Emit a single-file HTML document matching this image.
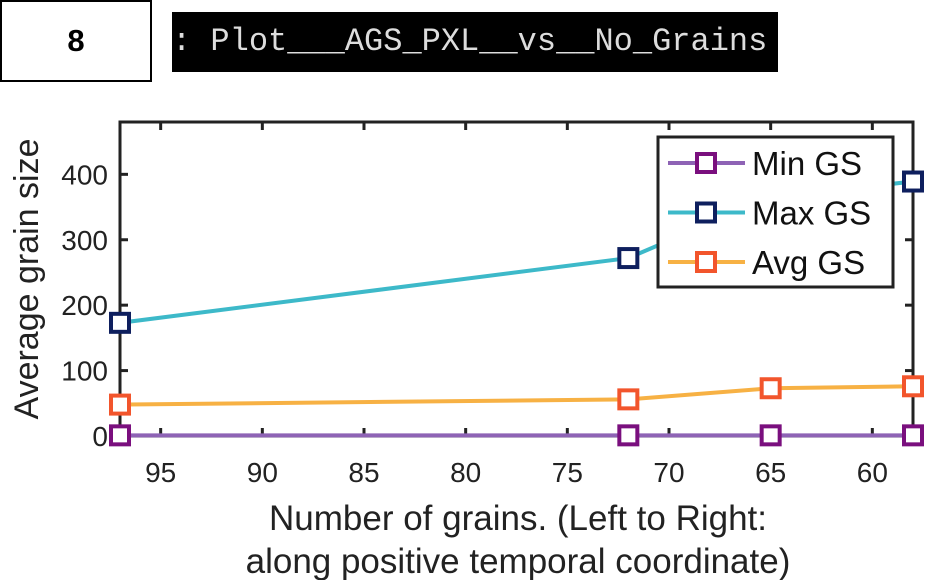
<!DOCTYPE html>
<html><head><meta charset="utf-8"><style>
body{margin:0;width:950px;height:580px;background:#fff;overflow:hidden;position:relative;font-family:"Liberation Sans",sans-serif}
</style></head><body>
<div style="position:absolute;left:0;top:0;width:148px;height:78px;border:2px solid #000;display:flex;align-items:center;justify-content:center;font-weight:bold;font-size:31px">8</div>
<div style="position:absolute;left:172px;top:12px;width:606px;height:60px;background:#000;color:#ddd;font-family:'Liberation Mono',monospace;font-size:32px;line-height:60px;white-space:pre;overflow:hidden">: Plot___AGS_PXL__vs__No_Grains</div>
<svg id="chart" width="950" height="580" style="position:absolute;left:0;top:0" font-family="Liberation Sans, sans-serif"></svg>
<script>
const xs=[97,72,65,58];
const minGS=[1,1,1,1];
const maxGS=[173,272,365,389];
const avgGS=[48,56,73,76];
const xTicks=[95,90,85,80,75,70,65,60];
const yTicks=[0,100,200,300,400];
const L=120,R=913,T=122,B=436;
const X=v=>L+(97-v)/(97-58)*(R-L);
const Y=v=>B-v/480*(B-T);
const svg=document.getElementById('chart');
const NS='http://www.w3.org/2000/svg';
function mk(t,a,p){const e=document.createElementNS(NS,t);for(const k in a)e.setAttribute(k,a[k]);(p||svg).appendChild(e);return e;}
let e;
e=mk('rect',{x:L,y:T,width:R-L,height:B-T,fill:'none',stroke:'#222','stroke-width':3});


xTicks.forEach(v=>{
 mk('line',{x1:X(v),x2:X(v),y1:B,y2:B-8,stroke:'#222','stroke-width':3});
 mk('line',{x1:X(v),x2:X(v),y1:T,y2:T+8,stroke:'#222','stroke-width':3});
 e=mk('text',{x:X(v),y:B+46,'text-anchor':'middle','font-size':28,fill:'#222'});e.textContent=v;
 
 
});
yTicks.forEach(v=>{
 mk('line',{x1:L,x2:L+8,y1:Y(v),y2:Y(v),stroke:'#222','stroke-width':3});
 mk('line',{x1:R,x2:R-8,y1:Y(v),y2:Y(v),stroke:'#222','stroke-width':3});
 e=mk('text',{x:L-12,y:Y(v)+10,'text-anchor':'end','font-size':28,fill:'#222'});e.textContent=v;
 
 
});
const series=[
 {n:'min-gs',d:minGS,line:'#8E63B5',mark:'#7A0F7E'},
 {n:'max-gs',d:maxGS,line:'#3DB9C9',mark:'#0E1F5E'},
 {n:'avg-gs',d:avgGS,line:'#F7B144',mark:'#F2552C'}];
series.slice().reverse().forEach(s=>{
 e=mk('polyline',{points:xs.map((x,i)=>X(x)+','+Y(s.d[i])).join(' '),fill:'none',stroke:s.line,'stroke-width':4});
 
 
 xs.forEach((x,i)=>{
  e=mk('rect',{x:X(x)-9,y:Y(s.d[i])-9,width:18,height:18,fill:'#fff',stroke:s.mark,'stroke-width':4});
  
  
 });
});
const lg=mk('g',{});


mk('rect',{x:658,y:137,width:235,height:150,fill:'#fff',stroke:'#222','stroke-width':3},lg);
const labels=['Min GS','Max GS','Avg GS'];
series.forEach((s,i)=>{
 const y=163+i*49.5;
 const g=mk('g',{},lg);
 
 
 mk('line',{x1:668,x2:745,y1:y,y2:y,stroke:s.line,'stroke-width':4},g);
 mk('rect',{x:697,y:y-9,width:18,height:18,fill:'#fff',stroke:s.mark,'stroke-width':4},g);
 const t=mk('text',{x:752,y:y+12,'font-size':33,fill:'#111'},g);t.textContent=labels[i];
});
e=mk('text',{x:38,y:279,'text-anchor':'middle','font-size':34,fill:'#222',transform:'rotate(-90 38 279)'});e.textContent='Average grain size';


e=mk('text',{x:518,y:530,'text-anchor':'middle','font-size':35,fill:'#222'});e.textContent='Number of grains. (Left to Right:';


e=mk('text',{x:518,y:573,'text-anchor':'middle','font-size':35,fill:'#222'});e.textContent='along positive temporal coordinate)';


</script>
</body></html>
